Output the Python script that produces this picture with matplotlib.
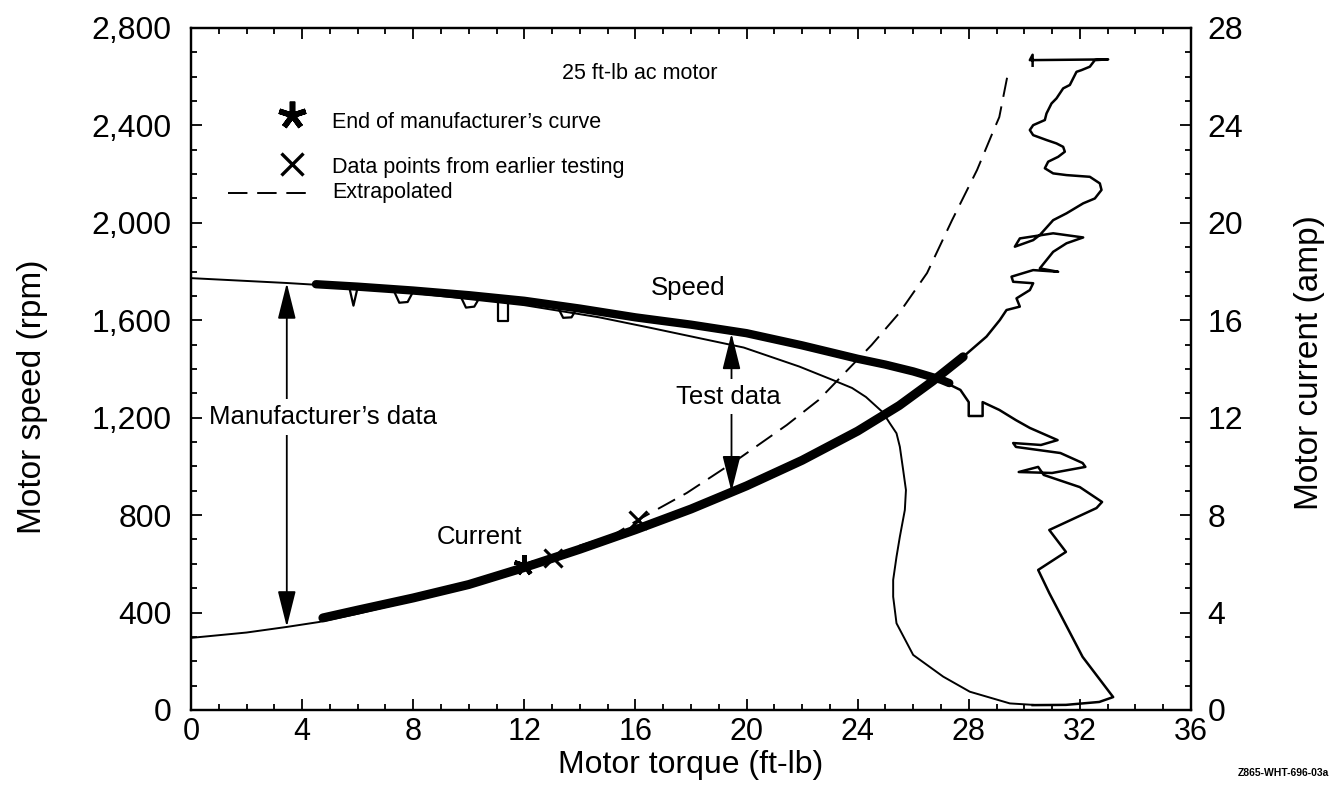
import matplotlib
matplotlib.use("Agg")
import matplotlib.pyplot as plt
from matplotlib.ticker import MultipleLocator, FuncFormatter

plt.rcParams['font.family'] = ['Liberation Sans', 'DejaVu Sans']

# Manufacturer's speed curve (rpm vs ft-lb)
mfr_speed_torque = [0, 3.45, 4.6, 8, 12, 14.7, 16.5, 19.9, 21.9, 23.1, 23.8, 24.3, 24.9,
                    25.16, 25.4, 25.52, 25.64, 25.74, 25.7, 25.52, 25.4, 25.28, 25.28,
                    25.4, 26.0, 27.08, 28.04, 29.48, 30.32]
mfr_speed = [1773, 1753, 1745, 1712, 1662, 1612, 1570, 1488, 1410, 1355, 1322, 1285, 1223,
             1177, 1136, 1081, 985, 903, 821, 711, 629, 534, 465,
             356, 226, 137, 75, 27, 21]

# Manufacturer's current curve (amp)
mfr_current_torque = [0, 2, 3.45, 4.6, 6, 8, 10, 12]
mfr_current = [2.96, 3.18, 3.41, 3.61, 3.95, 4.5, 5.15, 5.9]

# Test data - speed band
test_speed_torque = [4.5, 6, 8, 10, 12, 14, 16, 18, 20, 22, 24, 25, 26, 27, 27.3]
test_speed = [1748, 1738, 1722, 1703, 1680, 1648, 1612, 1582, 1547, 1497, 1442, 1418, 1390, 1356, 1342]

# small excursions below the speed band (torque, rpm)
dip_torque = [5.7, 5.85, 6.0,
              7.3, 7.5, 7.8, 8.0,
              9.7, 9.9, 10.2, 10.4,
              11.05, 11.05, 11.4, 11.4,
              13.2, 13.4, 13.7, 13.9]
dip_speed = [1735, 1660, 1735,
             1722, 1672, 1675, 1718,
             1700, 1652, 1656, 1695,
             1680, 1595, 1595, 1676,
             1655, 1610, 1612, 1650]
dip_groups = [3, 4, 4, 4, 4]

# Test data - speed, ragged part at high torque
rag_speed_torque = [27.2, 27.7, 28.0, 28.0, 28.5, 28.5, 29.1, 29.7, 30.2, 31.2, 30.6, 29.6,
                    29.7, 31.3, 32.1, 32.2, 31.0, 29.8, 30.5, 30.7, 32.0, 32.8, 32.6, 30.9,
                    31.5, 30.5, 30.9, 32.1, 33.2, 32.7, 31.5, 30.3]
rag_speed = [1342, 1314, 1264, 1207, 1207, 1264, 1232, 1190, 1158, 1108, 1088, 1096,
             1080, 1055, 1014, 998, 973, 977, 998, 965, 915, 854, 829, 739,
             649, 575, 480, 218, 53, 33, 21, 20]

# Test data - current band
test_current_torque = [4.75, 6, 8, 10, 12, 14, 16, 18, 20, 22, 24, 25.5, 26.7, 27.8]
test_current = [3.78, 4.1, 4.6, 5.15, 5.85, 6.6, 7.4, 8.25, 9.2, 10.25, 11.45, 12.5, 13.5, 14.5]

# Test data - current, ragged part
rag_current_torque = [27.8, 28.64, 29.12, 29.36, 29.84, 29.72, 30.2, 30.32, 29.6, 29.54, 30.32,
                      31.22, 30.56, 30.8, 31.04, 31.52, 32.12, 31.04, 29.84, 29.66, 30.32,
                      30.56, 31.04, 31.52, 32.12, 32.54, 32.78, 32.72, 32.36, 31.52, 31.04,
                      30.74, 30.86, 31.22, 31.46, 31.4, 31.16, 30.8, 30.32, 30.2, 30.32,
                      30.74, 30.8, 30.98, 31.16, 31.4, 31.64, 31.88, 32.06, 32.36, 32.54,
                      33.02, 30.2, 30.3, 30.3]
rag_current = [14.5, 15.33, 16.01, 16.42, 16.56, 16.9, 17.24, 17.52, 17.58, 17.79, 18.06,
               17.99, 18.13, 18.47, 18.81, 19.16, 19.4, 19.57, 19.36, 19.02, 19.29,
               19.5, 20.11, 20.39, 20.8, 21.0, 21.35, 21.62, 21.89, 21.96, 22.03,
               22.24, 22.51, 22.71, 22.92, 23.12, 23.26, 23.4, 23.6, 23.81, 24.01,
               24.22, 24.49, 24.9, 25.11, 25.52, 25.66, 26.2, 26.27, 26.41, 26.68,
               26.71, 26.68, 26.9, 26.45]

# Extrapolated current
extrap_torque = [12.0, 13.0, 14.0, 15.2, 16.09, 17.85, 19.65, 21.45, 22.6, 24.5, 25.5,
                 26.5, 27.4, 28.3, 28.9, 29.1, 29.4]
extrap_current = [5.95, 6.3, 6.75, 7.18, 7.8, 8.91, 10.26, 11.7, 12.73, 14.98, 16.3,
                  17.94, 20.11, 22.17, 23.81, 24.34, 26.07]

# markers
end_mfr_torque, end_mfr_current = 12.0, 5.95
earlier_torque = [13.03, 16.09]
earlier_current = [6.24, 7.8]

fig = plt.figure(figsize=(13.41, 7.88), dpi=100)
ax = fig.add_axes([0.1424, 0.099, 0.7457, 0.8655])
ax2 = ax.twinx()

ax.set_xlim(0, 36)
ax.set_ylim(0, 2800)
ax2.set_ylim(0, 28)

k = 'black'
# speed
ax.plot(mfr_speed_torque, mfr_speed, color=k, lw=1.4)
ax.plot(test_speed_torque, test_speed, color=k, lw=6, solid_capstyle='round',
        solid_joinstyle='round')
i = 0
for n in dip_groups:
    ax.plot(dip_torque[i:i + n], dip_speed[i:i + n], color=k, lw=1.6)
    i += n
ax.plot(rag_speed_torque, rag_speed, color=k, lw=1.8)

# current
ax2.plot(mfr_current_torque, mfr_current, color=k, lw=1.4)
ax2.plot(test_current_torque, test_current, color=k, lw=6.5, solid_capstyle='round',
         solid_joinstyle='round')
ax2.plot(rag_current_torque, rag_current, color=k, lw=1.8)
ax2.plot(extrap_torque, extrap_current, color=k, lw=1.4, dashes=(10, 5))
ax2.plot(end_mfr_torque, end_mfr_current, marker=(5, 2, 0), ms=15, mew=3.2, color=k)
ax2.plot(earlier_torque, earlier_current, 'x', ms=13, mew=2.2, color=k)

# arrows
arrow = dict(arrowstyle='<|-|>,head_length=1.6,head_width=0.4', mutation_scale=14,
             color=k, lw=1.3, shrinkA=0, shrinkB=0)
ax.annotate('', xy=(3.45, 1753), xytext=(3.45, 341), arrowprops=arrow)
ax.annotate('', xy=(19.46, 1546), xytext=(19.46, 896), arrowprops=arrow)

box = dict(facecolor='white', edgecolor='none', pad=4)
ax.text(4.75, 1203, "Manufacturer\u2019s data", fontsize=18.5, ha='center', va='center', bbox=box)
ax.text(19.33, 1286, "Test data", fontsize=18.5, ha='center', va='center', bbox=box)
ax.text(17.9, 1732, "Speed", fontsize=18.5, ha='center', va='center')
ax.text(10.4, 710, "Current", fontsize=18.5, ha='center', va='center')
ax.text(16.16, 2615, "25 ft-lb ac motor", fontsize=15.5, ha='center', va='center')

# legend drawn by hand
ax.plot(3.64, 2443, marker=(5, 2, 0), ms=20, mew=4, color=k)
ax.plot(3.64, 2240, 'x', ms=16, mew=2.4, color=k)
ax.plot([1.33, 4.18], [2122, 2122], color=k, lw=1.4, dashes=(10, 5))
ax.text(5.08, 2410, "End of manufacturer\u2019s curve", fontsize=15.5, va='center')
ax.text(5.08, 2229, "Data points from earlier testing", fontsize=15.5, va='center')
ax.text(5.08, 2126, "Extrapolated", fontsize=15.5, va='center')

# axes styling
ax.xaxis.set_major_locator(MultipleLocator(4))
ax.xaxis.set_minor_locator(MultipleLocator(1))
ax.yaxis.set_major_locator(MultipleLocator(400))
ax.yaxis.set_minor_locator(MultipleLocator(100))
ax.yaxis.set_major_formatter(FuncFormatter(lambda v, p: f"{int(v):,}"))
ax2.yaxis.set_major_locator(MultipleLocator(4))
ax2.yaxis.set_minor_locator(MultipleLocator(1))

ax.tick_params(which='both', direction='in', top=True, right=False, width=1.3)
ax.tick_params(which='major', length=8)
ax.tick_params(which='minor', length=4)
ax.tick_params(axis='y', labelsize=23, pad=14)
ax.tick_params(axis='x', labelsize=22, pad=5)
ax2.tick_params(which='both', direction='in', width=1.3, labelsize=23, pad=12)
ax2.tick_params(which='major', length=8)
ax2.tick_params(which='minor', length=4)

for a in (ax, ax2):
    for s in a.spines.values():
        s.set_linewidth(1.6)

ax.set_xlabel("Motor torque (ft-lb)", fontsize=23, labelpad=2)
ax.set_ylabel("Motor speed (rpm)", fontsize=24)
ax.yaxis.set_label_coords(-0.143, 0.459)
ax2.set_ylabel("Motor current (amp)", fontsize=24, rotation=90)
ax2.yaxis.set_label_coords(1.103, 0.51)

fig.text(0.957, 0.019, "Z865-WHT-696-03a", fontsize=7.5, weight='bold', ha='center', va='center')

fig.savefig("out.png", dpi=100)
